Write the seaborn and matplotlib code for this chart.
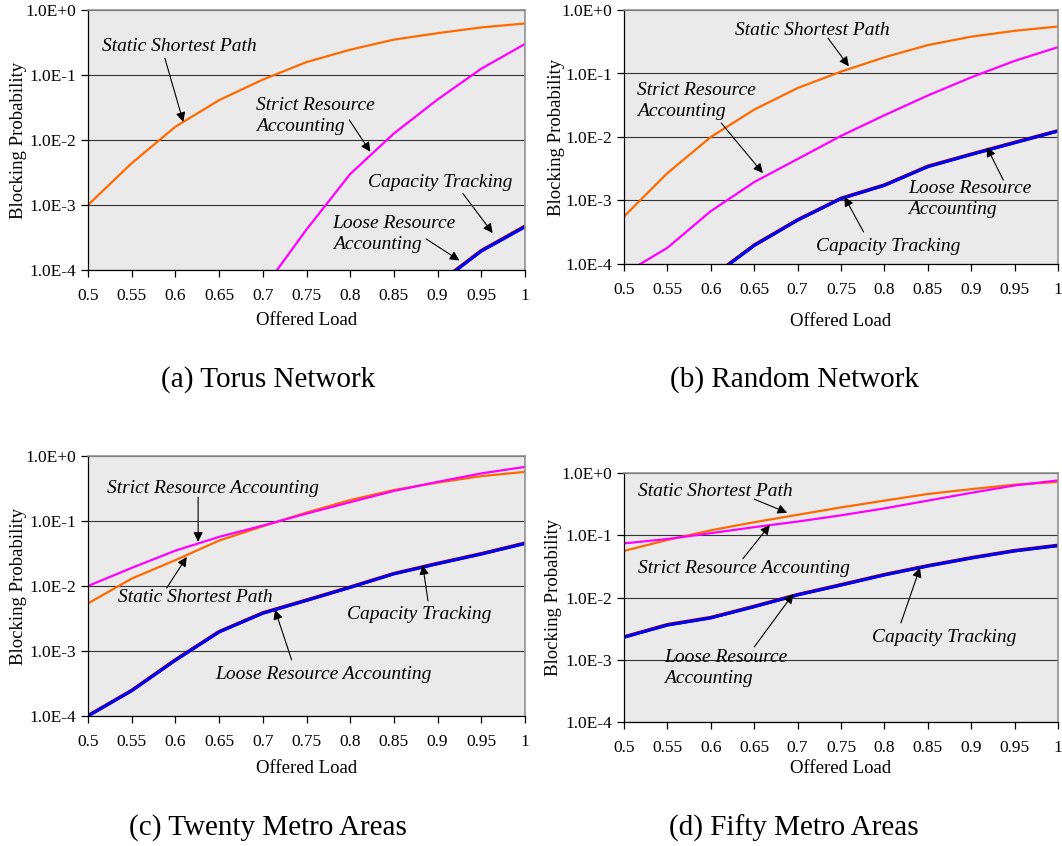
import numpy as np
import pandas as pd
import matplotlib
matplotlib.use("Agg")
import matplotlib.pyplot as plt
import seaborn as sns
from matplotlib.ticker import FixedLocator, FixedFormatter, NullLocator

load = [0.5, 0.55, 0.6, 0.65, 0.7, 0.75, 0.8, 0.85, 0.9, 0.95, 1.0]
x_ticks = [0.5, 0.55, 0.6, 0.65, 0.7, 0.75, 0.8, 0.85, 0.9, 0.95, 1.0]
x_tick_labels = ["0.5", "0.55", "0.6", "0.65", "0.7", "0.75", "0.8", "0.85", "0.9", "0.95", "1"]
y_ticks = [1e-4, 1e-3, 1e-2, 1e-1, 1e0]
y_tick_labels = ["1.0E-4", "1.0E-3", "1.0E-2", "1.0E-1", "1.0E+0"]

# (a) Torus Network
torus_ssp = [1.0e-3, 4.4e-3, 0.016, 0.041, 0.085, 0.158, 0.245, 0.35, 0.44, 0.54, 0.62]
torus_sra = [None, None, None, None, 5e-5, 4.2e-4, 3.0e-3, 0.0126, 0.042, 0.125, 0.30]
torus_ct = [None, None, None, None, None, None, None, None, 6.1e-5, 1.98e-4, 4.7e-4]
torus_lra = [None, None, None, None, None, None, None, None, 6.0e-5, 1.95e-4, 4.6e-4]

# (b) Random Network
random_ssp = [5.6e-4, 2.7e-3, 0.010, 0.027, 0.059, 0.107, 0.18, 0.28, 0.38, 0.47, 0.55]
random_sra = [7e-5, 1.8e-4, 6.8e-4, 1.95e-3, 4.5e-3, 0.0104, 0.022, 0.045, 0.087, 0.158, 0.26]
random_ct = [None, None, 6.1e-5, 1.98e-4, 4.95e-4, 1.08e-3, 1.75e-3, 3.45e-3, 5.35e-3, 8.2e-3, 0.0125]
random_lra = [None, None, 6.0e-5, 1.95e-4, 4.9e-4, 1.07e-3, 1.73e-3, 3.4e-3, 5.3e-3, 8.1e-3, 0.0124]

# (c) Twenty Metro Areas
twenty_ssp = [5.4e-3, 0.013, 0.025, 0.050, 0.083, 0.135, 0.21, 0.30, 0.39, 0.49, 0.57]
twenty_sra = [0.010, 0.019, 0.035, 0.057, 0.085, 0.13, 0.195, 0.29, 0.40, 0.54, 0.68]
twenty_ct = [1.01e-4, 2.47e-4, 7.3e-4, 1.98e-3, 3.85e-3, 6.05e-3, 9.6e-3, 0.0155, 0.0222, 0.0313, 0.0455]
twenty_lra = [1.0e-4, 2.45e-4, 7.2e-4, 1.96e-3, 3.8e-3, 6.0e-3, 9.5e-3, 0.0154, 0.022, 0.031, 0.045]

# (d) Fifty Metro Areas
fifty_ssp = [0.056, 0.084, 0.12, 0.162, 0.213, 0.28, 0.36, 0.46, 0.55, 0.65, 0.72]
fifty_sra = [0.074, 0.087, 0.108, 0.135, 0.166, 0.209, 0.27, 0.36, 0.48, 0.63, 0.76]
fifty_ct = [2.32e-3, 3.65e-3, 4.75e-3, 7.2e-3, 0.0111, 0.016, 0.0233, 0.0323, 0.0434, 0.0565, 0.0687]
fifty_lra = [2.3e-3, 3.6e-3, 4.7e-3, 7.1e-3, 0.011, 0.0158, 0.023, 0.032, 0.043, 0.056, 0.068]

captions = ["(a) Torus Network", "(b) Random Network",
            "(c) Twenty Metro Areas", "(d) Fifty Metro Areas"]

sns.set_style("white")
plt.rcParams["font.family"] = ["Liberation Serif", "DejaVu Serif"]
plt.rcParams["text.color"] = "black"
plt.rcParams["axes.labelcolor"] = "black"

W, H = 1062, 846
fig = plt.figure(figsize=(W / 100, H / 100), dpi=100)


def px_axes(left, top, right, bottom):
    return fig.add_axes([left / W, 1 - bottom / H, (right - left) / W, (bottom - top) / H])


def draw_panel(ax, ssp, sra, ct, lra, ylab_x, xlab_pad):
    df = pd.DataFrame({"load": load, "ssp": ssp, "sra": sra, "ct": ct, "lra": lra}).astype(float)
    sns.lineplot(data=df, x="load", y="ssp", color="#FF6A00", lw=1.6, ax=ax)
    sns.lineplot(data=df, x="load", y="sra", color="#FF00FF", lw=1.6, ax=ax)
    sns.lineplot(data=df, x="load", y="ct", color="#800000", lw=2.6, ax=ax)
    sns.lineplot(data=df, x="load", y="lra", color="#0000FF", lw=2.1, ax=ax)
    ax.set_yscale("log")
    ax.set_xlim(0.5, 1.0)
    ax.set_ylim(1e-4, 1.0)
    ax.set_facecolor("#EAEAEA")
    ax.yaxis.set_major_locator(FixedLocator(y_ticks))
    ax.yaxis.set_major_formatter(FixedFormatter(y_tick_labels))
    ax.yaxis.set_minor_locator(NullLocator())
    ax.xaxis.set_major_locator(FixedLocator(x_ticks))
    ax.xaxis.set_major_formatter(FixedFormatter(x_tick_labels))
    ax.grid(axis="y", color="#333333", lw=0.8)
    ax.set_axisbelow(True)
    for s in ["top", "right"]:
        ax.spines[s].set_color("#909090")
        ax.spines[s].set_linewidth(1.2)
    for s in ["left", "bottom"]:
        ax.spines[s].set_color("black")
        ax.spines[s].set_linewidth(0.9)
    ax.tick_params(axis="both", direction="out", length=5, width=0.9,
                   labelsize=12.5, colors="black", left=True, bottom=True)
    ax.tick_params(axis="x", pad=8)
    ax.set_ylabel("Blocking Probability", fontsize=13.5, color="black")
    ax.set_xlabel("Offered Load", fontsize=13.5, labelpad=xlab_pad, color="black")
    ax.yaxis.set_label_coords(ylab_x, 0.5)


def note(ax, text, xy_text, xy_tip, xy_tail):
    ax.text(xy_text[0], xy_text[1], text, fontsize=14, style="italic", color="black",
            ha="left", va="center", linespacing=1.3)
    ax.annotate("", xy=xy_tip, xytext=xy_tail,
                arrowprops=dict(arrowstyle="-|>", color="black", lw=0.8,
                                mutation_scale=14, shrinkA=0, shrinkB=0))


# (a)
ax = px_axes(88, 10, 525, 270)
draw_panel(ax, torus_ssp, torus_sra, torus_ct, torus_lra, -0.14, 5.5)
note(ax, "Static Shortest Path", (0.516, 0.279), (0.609, 0.019), (0.588, 0.18))
note(ax, "Strict Resource\nAccounting", (0.692, 0.0234), (0.823, 6.6e-3), (0.799, 0.0203))
note(ax, "Capacity Tracking", (0.820, 2.2e-3), (0.963, 3.7e-4), (0.929, 1.5e-3))
note(ax, "Loose Resource\nAccounting", (0.780, 3.6e-4), (0.925, 1.4e-4), (0.887, 3.0e-4))

# (b)
ax = px_axes(624, 10, 1058, 264)
draw_panel(ax, random_ssp, random_sra, random_ct, random_lra, -0.136, 10.5)
note(ax, "Static Shortest Path", (0.628, 0.48), (0.759, 0.13), (0.735, 0.36))
note(ax, "Strict Resource\nAccounting", (0.515, 0.037), (0.660, 2.7e-3), (0.612, 0.0166))
note(ax, "Loose Resource\nAccounting", (0.827, 1.05e-3), (0.918, 6.9e-3), (0.937, 2.1e-3))
note(ax, "Capacity Tracking", (0.721, 1.86e-4), (0.754, 1.14e-3), (0.776, 3.2e-4))

# (c)
ax = px_axes(88, 456, 525, 716)
draw_panel(ax, twenty_ssp, twenty_sra, twenty_ct, twenty_lra, -0.14, 7)
note(ax, "Strict Resource Accounting", (0.522, 0.32), (0.626, 0.048), (0.626, 0.23))
note(ax, "Static Shortest Path", (0.534, 6.6e-3), (0.613, 0.028), (0.590, 9.3e-3))
note(ax, "Capacity Tracking", (0.796, 3.7e-3), (0.883, 0.021), (0.889, 5.9e-3))
note(ax, "Loose Resource Accounting", (0.646, 4.3e-4), (0.714, 4.3e-3), (0.733, 7.3e-4))

# (d)
ax = px_axes(624, 473, 1058, 722)
draw_panel(ax, fifty_ssp, fifty_sra, fifty_ct, fifty_lra, -0.143, 2.5)
note(ax, "Static Shortest Path", (0.516, 0.50), (0.688, 0.23), (0.650, 0.38))
note(ax, "Strict Resource Accounting", (0.516, 0.0297), (0.668, 0.146), (0.637, 0.042))
note(ax, "Capacity Tracking", (0.786, 2.3e-3), (0.841, 0.030), (0.819, 3.9e-3))
note(ax, "Loose Resource\nAccounting", (0.546, 7.4e-4), (0.695, 0.0114), (0.650, 1.6e-3))

# captions under each panel
for (cx, cy), cap in zip([(268, 380), (794, 380), (268, 828), (794, 828)], captions):
    fig.text(cx / W, 1 - cy / H, cap, fontsize=21, ha="center", va="center", color="black")

fig.savefig("out.png", dpi=100)
